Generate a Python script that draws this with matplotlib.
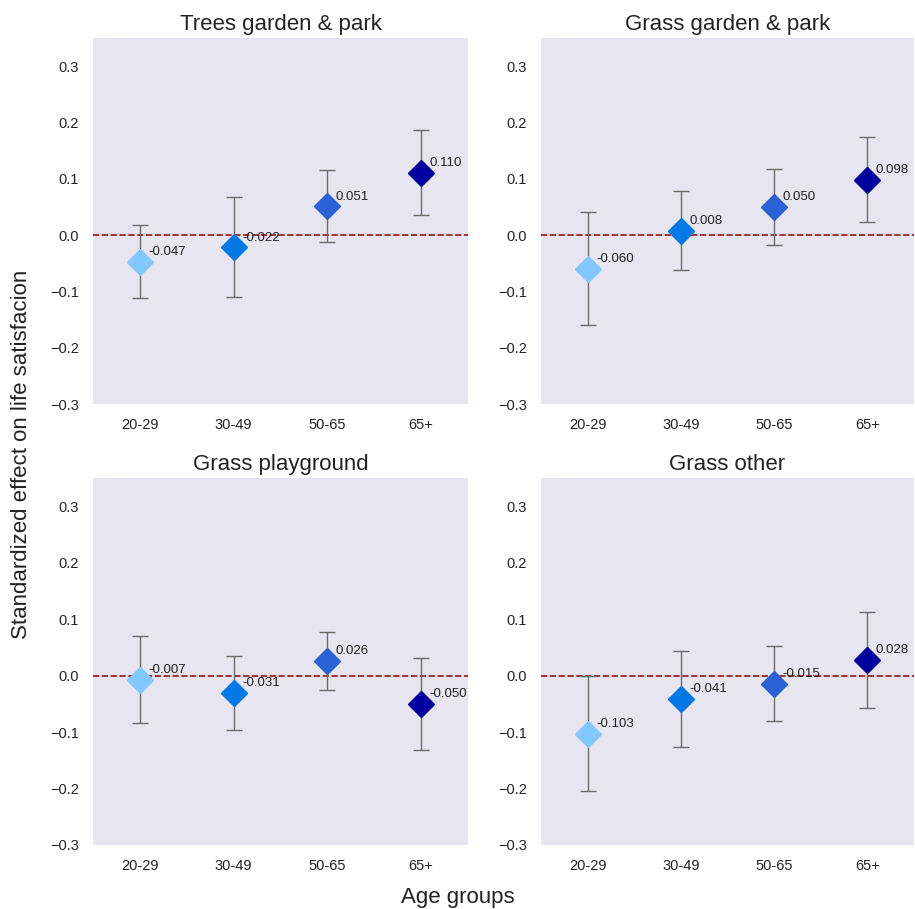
import matplotlib
matplotlib.use("Agg")
import matplotlib.pyplot as plt
import numpy as np

plt.rcParams['font.family'] = ['Liberation Sans', 'DejaVu Sans']

age_groups = ["20-29", "30-49", "50-65", "65+"]
titles = ["Trees garden & park", "Grass garden & park", "Grass playground", "Grass other"]

est_trees = [-0.047, -0.022, 0.051, 0.110]
lo_trees = [-0.111, -0.110, -0.013, 0.035]
hi_trees = [0.018, 0.068, 0.116, 0.186]

est_grass_gp = [-0.060, 0.008, 0.050, 0.098]
lo_grass_gp = [-0.160, -0.062, -0.017, 0.024]
hi_grass_gp = [0.041, 0.079, 0.118, 0.175]

est_playground = [-0.007, -0.031, 0.026, -0.050]
lo_playground = [-0.084, -0.097, -0.025, -0.132]
hi_playground = [0.071, 0.035, 0.077, 0.032]

est_other = [-0.103, -0.041, -0.015, 0.028]
lo_other = [-0.204, -0.126, -0.081, -0.058]
hi_other = [0.000, 0.044, 0.052, 0.113]

colors = ["#80c8ff", "#0078e6", "#2962d4", "#00009e"]

panels = [
    (est_trees, lo_trees, hi_trees),
    (est_grass_gp, lo_grass_gp, hi_grass_gp),
    (est_playground, lo_playground, hi_playground),
    (est_other, lo_other, hi_other),
]

W, H = 915, 909
fig = plt.figure(figsize=(W / 100, H / 100), dpi=100)

boxes = [
    (93, 38, 468, 404),
    (541, 38, 914, 404),
    (93, 478, 468, 845),
    (541, 478, 914, 845),
]

x = np.arange(len(age_groups))
for (est, lo, hi), title, (l, t, r, b) in zip(panels, titles, boxes):
    ax = fig.add_axes([l / W, 1 - b / H, (r - l) / W, (b - t) / H])
    ax.set_facecolor("#e6e5f0")
    for s in ax.spines.values():
        s.set_visible(False)
    ax.axhline(0, color="#9b1010", linestyle="--", linewidth=1.2, zorder=1)
    est = np.array(est)
    yerr = np.vstack([est - np.array(lo), np.array(hi) - est])
    ax.errorbar(x, est, yerr=yerr, fmt="none", ecolor="#6b6b6b", elinewidth=1.0,
                capsize=5.5, capthick=1.0, zorder=2)
    for i in range(len(x)):
        ax.plot(x[i], est[i], marker="D", markersize=13, color=colors[i],
                linestyle="none", zorder=3)
        ax.annotate(f"{est[i]:.3f}", (x[i], est[i]), xytext=(6, 7),
                    textcoords="offset points", ha="left", va="center",
                    fontsize=9.5, color="#222222", zorder=4)
    ax.set_xlim(-0.5, 3.5)
    ax.set_ylim(-0.3, 0.35)
    ax.set_yticks([-0.3, -0.2, -0.1, 0.0, 0.1, 0.2, 0.3])
    ax.set_xticks(x)
    ax.set_xticklabels(age_groups)
    ax.tick_params(length=0, labelsize=10.5, pad=10, colors="#222222")
    ax.set_title(title, fontsize=16, pad=6, color="#222222")

fig.text(0.5, 1 - 897 / H, "Age groups", ha="center", va="center", fontsize=16, color="#222222")
fig.text(22 / W, 0.5, "Standardized effect on life satisfacion", rotation=90,
         ha="center", va="center", fontsize=16, color="#222222")

fig.savefig("out.png", dpi=100)
